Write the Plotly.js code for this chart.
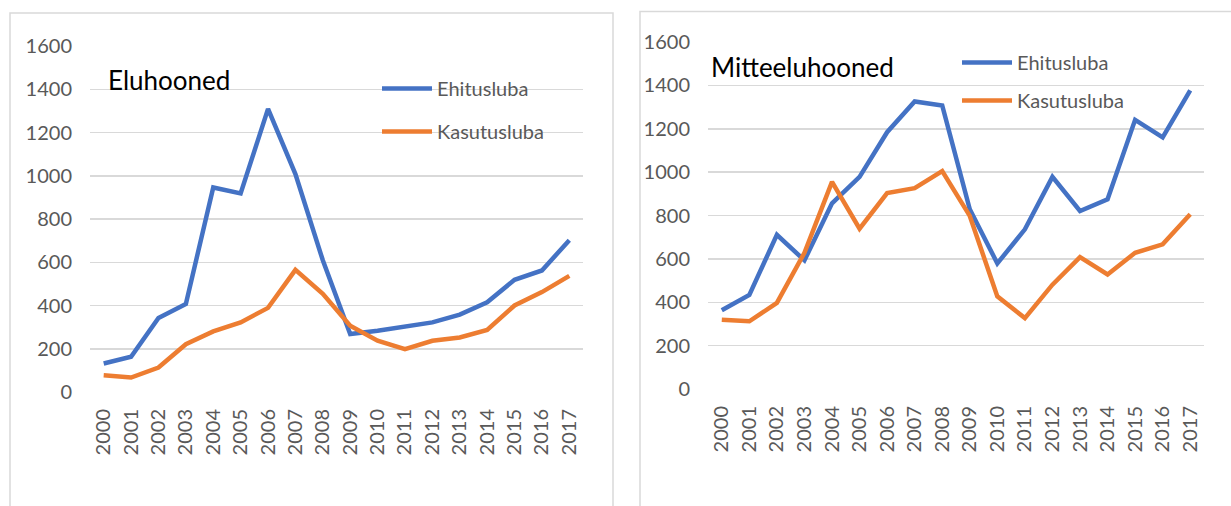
<!DOCTYPE html>
<html>
<head>
<meta charset="utf-8">
<script src="https://cdn.plot.ly/plotly-3.0.1.min.js"></script>
<style>html,body{margin:0;padding:0;background:#fff;}#chart{width:1231px;height:506px;}</style>
</head>
<body>
<div id="chart"></div>
<script>
const years = ["2000","2001","2002","2003","2004","2005","2006","2007","2008","2009","2010","2011","2012","2013","2014","2015","2016","2017"];
const seriesNames = ["Ehitusluba", "Kasutusluba"];
const panelTitles = ["Eluhooned", "Mitteeluhooned"];
const yTicks = [0, 200, 400, 600, 800, 1000, 1200, 1400, 1600];

const eluEhitusluba = [132, 163, 342, 407, 946, 918, 1309, 1008, 609, 268, 283, 302, 322, 358, 415, 519, 562, 702];
const eluKasutusluba = [77, 67, 113, 221, 280, 322, 389, 565, 454, 307, 237, 198, 237, 252, 287, 400, 462, 537];
const mitteEhitusluba = [363, 434, 711, 593, 856, 978, 1184, 1326, 1307, 829, 579, 736, 978, 821, 875, 1241, 1160, 1377];
const mitteKasutusluba = [319, 312, 397, 628, 955, 739, 903, 926, 1005, 798, 427, 327, 481, 608, 528, 628, 667, 806];

const W = 1231, H = 506;
const BLUE = '#4472C4', ORANGE = '#ED7D31';
const FONT = 'Lato, "Open Sans", sans-serif';
const GREY = '#595959';

function tr(x, y, name, color, xa, ya, leg, grp) {
  return {x: x, y: y, name: name, type: 'scatter', mode: 'lines',
    line: {color: color, width: 4.5}, xaxis: xa, yaxis: ya,
    legend: leg, legendgroup: grp, hoverinfo: 'skip'};
}

const data = [
  tr(years, eluEhitusluba, seriesNames[0], BLUE, 'x', 'y', 'legend', 'a'),
  tr(years, eluKasutusluba, seriesNames[1], ORANGE, 'x', 'y', 'legend', 'b'),
  tr(years, mitteEhitusluba, seriesNames[0], BLUE, 'x2', 'y2', 'legend2', 'c'),
  tr(years, mitteKasutusluba, seriesNames[1], ORANGE, 'x2', 'y2', 'legend2', 'd')
];

function xax(d0, d1, anchor) {
  return {domain: [d0 / W, d1 / W], anchor: anchor, type: 'category', tickangle: -90,
    range: [-0.5, years.length - 0.5],
    showgrid: false, zeroline: false, showline: false, ticks: '',
    tickfont: {family: FONT, size: 20, color: GREY}, ticklabelstandoff: 12, fixedrange: true};
}
function yax(top, bottom, anchor) {
  return {domain: [1 - bottom / H, 1 - top / H], anchor: anchor, range: [0, 1600],
    tickvals: yTicks, showgrid: true, gridcolor: '#d9d9d9', gridwidth: 1.5,
    zeroline: false, showline: false, ticks: '',
    tickfont: {family: FONT, size: 20, color: GREY}, ticklabelstandoff: 17, fixedrange: true};
}

function leg(x, yTop, gap) {
  return {x: x / W, y: 1 - yTop / H, xanchor: 'left', yanchor: 'top',
    font: {family: FONT, size: 20, color: GREY}, bgcolor: 'rgba(0,0,0,0)',
    tracegroupgap: gap, itemwidth: 50, borderwidth: 0};
}

const layout = {
  width: W, height: H,
  margin: {l: 0, r: 0, t: 0, b: 0},
  paper_bgcolor: '#fff', plot_bgcolor: 'rgba(0,0,0,0)',
  showlegend: true,
  xaxis: xax(90, 583, 'y'),
  yaxis: yax(46, 392, 'x'),
  xaxis2: xax(708, 1204, 'y2'),
  yaxis2: yax(42, 389, 'x2'),
  legend: leg(377, 69, 14),
  legend2: leg(957, 43, 9),
  shapes: [
    {type: 'rect', xref: 'paper', yref: 'paper', x0: 10 / W, x1: 613 / W, y0: -0.05, y1: 1 - 13 / H,
      line: {color: '#d9d9d9', width: 1.5}, layer: 'below'},
    {type: 'rect', xref: 'paper', yref: 'paper', x0: 640 / W, x1: 1.05, y0: -0.05, y1: 1 - 11.5 / H,
      line: {color: '#d9d9d9', width: 1.5}, layer: 'below'}
  ],
  annotations: [
    {text: panelTitles[0], xref: 'paper', yref: 'paper', x: 106 / W, y: 1 - 80 / H,
      xanchor: 'left', yanchor: 'middle', showarrow: false,
      font: {family: FONT, size: 26, color: '#000'}},
    {text: panelTitles[1], xref: 'paper', yref: 'paper', x: 709 / W, y: 1 - 67 / H,
      xanchor: 'left', yanchor: 'middle', showarrow: false,
      font: {family: FONT, size: 26, color: '#000'}}
  ]
};

Plotly.newPlot('chart', data, layout, {displayModeBar: false, staticPlot: true});
</script>
</body>
</html>
